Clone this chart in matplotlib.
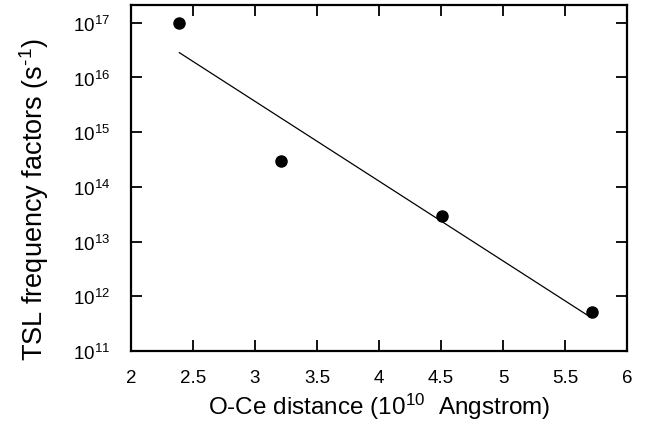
import numpy as np
import matplotlib
matplotlib.use("Agg")
import matplotlib.pyplot as plt
from matplotlib.ticker import NullLocator, FixedLocator

plt.rcParams['font.family'] = ['Liberation Sans', 'DejaVu Sans']
plt.rcParams['mathtext.default'] = 'regular'

# data
distance = [2.39, 3.21, 4.51, 5.72]
freq_factor = [1.0e17, 3.0e14, 3.0e13, 5.2e11]

x_ticks = [2, 2.5, 3, 3.5, 4, 4.5, 5, 5.5, 6]
x_tick_labels = ["2", "2.5", "3", "3.5", "4", "4.5", "5", "5.5", "6"]

fig = plt.figure(figsize=(6.70, 4.39), dpi=100)
ax = fig.add_axes([0.1955, 0.198, 0.7405, 0.788])

ax.plot(distance, freq_factor, 'o', color='black', markersize=8, zorder=3)

# linear fit in log space
coef = np.polyfit(distance, np.log10(freq_factor), 1)
xf = np.array([distance[0], 5.68])
ax.plot(xf, 10 ** np.polyval(coef, xf), color='black', linewidth=0.9)

ax.set_yscale('log')
ax.set_xlim(2, 6)
ax.set_ylim(1e11, 2.1e17)
ax.yaxis.set_major_locator(FixedLocator([10.0 ** k for k in range(11, 18)]))
ax.yaxis.set_minor_locator(NullLocator())
ax.set_yticklabels([r'$10^{%d}$' % k for k in range(11, 18)])
ax.set_xticks(x_ticks)
ax.set_xticklabels(x_tick_labels)

for s in ax.spines.values():
    s.set_linewidth(1.6)
ax.tick_params(direction='in', length=8, width=1.3, top=True, right=True,
               labelsize=13.5)
ax.tick_params(axis='x', pad=13)
ax.tick_params(axis='y', pad=15)

ax.set_xlabel('O-Ce distance (10$^{10}$  Angstrom)', fontsize=17.5, labelpad=3)
ax.set_ylabel('TSL frequency factors (s$^{\u2010 1}$)', fontsize=19.5)
ax.yaxis.set_label_coords(-0.161, 0.44)

fig.savefig('out.png', dpi=100)
